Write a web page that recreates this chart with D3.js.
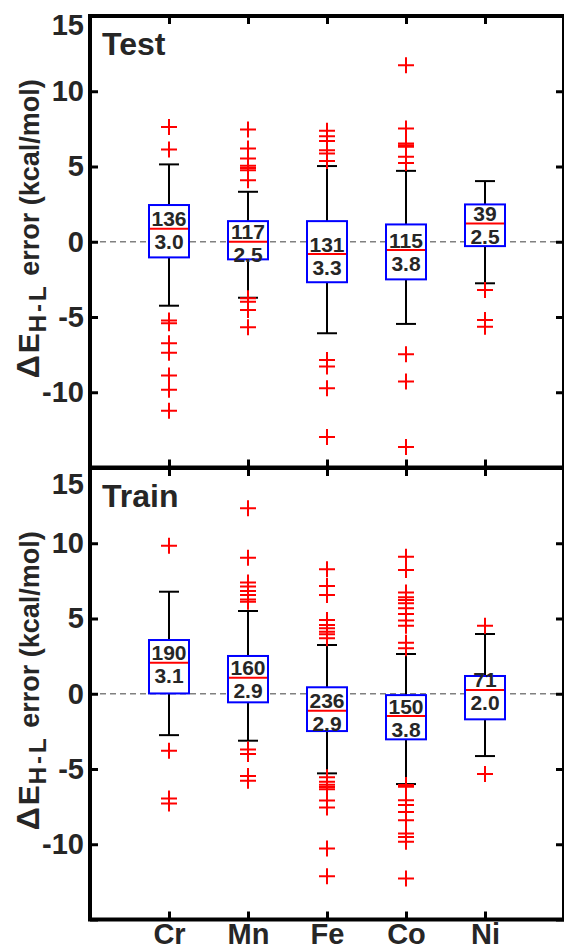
<!DOCTYPE html>
<html>
<head>
<meta charset="utf-8">
<script src="https://cdn.jsdelivr.net/npm/d3@7"></script>
<style>
  html, body { margin: 0; padding: 0; background: #fff; }
  svg { display: block; }
  text { font-family: "Liberation Sans", Arial, Helvetica, sans-serif; font-weight: bold; fill: #262626; }
</style>
</head>
<body>
<svg id="chart" width="564" height="951"></svg>
<script>
// Metal centres on the x axis
const metals = ["Cr", "Mn", "Fe", "Co", "Ni"];
const yTicks = [-15, -10, -5, 0, 5, 10, 15];
const yTickLabels = [-10, -5, 0, 5, 10, 15];

// Test set: box statistics (kcal/mol)
const testQ1 = [-1.04, -1.17, -2.69, -2.50, -0.29];
const testMedian = [0.86, 0.00, -0.82, -0.55, 1.22];
const testQ3 = [2.44, 1.37, 1.37, 1.15, 2.48];
const testWhiskerLow = [-4.25, -3.72, -6.08, -5.46, -2.76];
const testWhiskerHigh = [5.14, 3.32, 5.03, 4.71, 4.03];
const testOutliers = [
  [7.63, 6.13, -5.24, -5.42, -6.74, -7.37, -8.89, -9.84, -11.23],
  [7.46, 6.20, 5.53, 5.05, 4.90, 4.75, 4.09, -3.76, -3.98, -4.53, -5.68],
  [7.37, 7.01, 6.70, 6.08, 5.87, 5.37, -7.85, -8.29, -9.73, -12.98],
  [11.73, 7.52, 6.53, 6.42, 6.31, 5.64, 5.24, -7.47, -9.29, -13.64],
  [-3.20, -5.20, -5.64]
];
const testCounts = [136, 117, 131, 115, 39];
const testMAE = [3.0, 2.5, 3.3, 3.8, 2.5];

// Training set: box statistics (kcal/mol)
const trainQ1 = [0.02, -0.57, -2.48, -3.03, -1.70];
const trainMedian = [2.06, 1.06, -1.13, -1.48, 0.25];
const trainQ3 = [3.57, 2.51, 0.43, -0.09, 1.18];
const trainWhiskerLow = [-2.75, -3.12, -5.29, -6.00, -4.14];
const trainWhiskerHigh = [6.78, 5.50, 3.24, 2.64, 3.97];
const trainOutliers = [
  [9.84, -3.79, -6.96, -7.29],
  [12.33, 9.04, 7.40, 7.12, 6.83, 6.56, 6.27, 6.12, -3.70, -4.01, -5.47, -5.78],
  [8.27, 7.16, 6.56, 4.90, 4.57, 4.35, 4.12, 3.95, 3.68,
   -5.55, -5.85, -6.05, -6.20, -6.35, -7.10, -7.55, -10.28, -12.12],
  [9.11, 8.22, 6.72, 6.41, 6.23, 6.01, 5.68, 5.30, 4.86, 4.52, 3.39, 3.02,
   -6.07, -6.18, -7.07, -7.40, -7.85, -8.40, -9.28, -9.51, -9.84, -12.27],
  [4.52, -5.34]
];
const trainCounts = [190, 160, 236, 150, 71];
const trainMAE = [3.1, 2.9, 2.9, 3.8, 2.0];

const svg = d3.select("#chart");
svg.append("rect").attr("width", 564).attr("height", 951).attr("fill", "#fff");

const x = d3.scaleLinear().domain([0, 6]).range([90, 564]);

function buildRows(q1, med, q3, wl, wh, outl, counts, mae) {
  return metals.map((m, i) => ({
    metal: m, pos: i + 1, q1: q1[i], median: med[i], q3: q3[i],
    low: wl[i], high: wh[i], outliers: outl[i], count: counts[i], mae: mae[i]
  }));
}

const panels = [
  { title: "Test", top: 16, bottom: 467.5, titleY: 55, topLabelShift: 9, xLabels: false,
    rows: buildRows(testQ1, testMedian, testQ3, testWhiskerLow, testWhiskerHigh, testOutliers, testCounts, testMAE) },
  { title: "Train", top: 468, bottom: 919.5, titleY: 507, topLabelShift: 16, xLabels: true,
    rows: buildRows(trainQ1, trainMedian, trainQ3, trainWhiskerLow, trainWhiskerHigh, trainOutliers, trainCounts, trainMAE) }
];

const boxW = 40, capW = 20, plus = 8;

panels.forEach(p => {
  const y = d3.scaleLinear().domain([-15, 15]).range([p.bottom, p.top]);
  const g = svg.append("g");

  // zero reference line
  g.append("line")
    .attr("x1", x(0)).attr("x2", x(6))
    .attr("y1", y(0)).attr("y2", y(0))
    .attr("stroke", "#808080").attr("stroke-width", 1.4)
    .attr("stroke-dasharray", "6,4");

  const box = g.selectAll("g.box").data(p.rows).join("g").attr("class", "box");

  // whiskers and caps
  box.append("line")
    .attr("x1", d => x(d.pos)).attr("x2", d => x(d.pos))
    .attr("y1", d => y(d.q3)).attr("y2", d => y(d.high))
    .attr("stroke", "#000").attr("stroke-width", 2);
  box.append("line")
    .attr("x1", d => x(d.pos)).attr("x2", d => x(d.pos))
    .attr("y1", d => y(d.q1)).attr("y2", d => y(d.low))
    .attr("stroke", "#000").attr("stroke-width", 2);
  box.append("line")
    .attr("x1", d => x(d.pos) - capW / 2).attr("x2", d => x(d.pos) + capW / 2)
    .attr("y1", d => y(d.high)).attr("y2", d => y(d.high))
    .attr("stroke", "#000").attr("stroke-width", 2);
  box.append("line")
    .attr("x1", d => x(d.pos) - capW / 2).attr("x2", d => x(d.pos) + capW / 2)
    .attr("y1", d => y(d.low)).attr("y2", d => y(d.low))
    .attr("stroke", "#000").attr("stroke-width", 2);

  // outlier crosses
  box.selectAll("path.out")
    .data(d => d.outliers.map(v => ({ pos: d.pos, v })))
    .join("path").attr("class", "out")
    .attr("d", o => {
      const cx = x(o.pos), cy = y(o.v);
      return `M${cx - plus},${cy}H${cx + plus}M${cx},${cy - plus}V${cy + plus}`;
    })
    .attr("stroke", "#ff0000").attr("stroke-width", 2).attr("fill", "none");

  // interquartile box
  box.append("rect")
    .attr("x", d => x(d.pos) - boxW / 2).attr("width", boxW)
    .attr("y", d => y(d.q3)).attr("height", d => y(d.q1) - y(d.q3))
    .attr("fill", "#fff").attr("stroke", "#0000ff").attr("stroke-width", 2);

  // median
  box.append("line")
    .attr("x1", d => x(d.pos) - boxW / 2 + 1).attr("x2", d => x(d.pos) + boxW / 2 - 1)
    .attr("y1", d => y(d.median)).attr("y2", d => y(d.median))
    .attr("stroke", "#ff0000").attr("stroke-width", 2);

  // sample count above the median, mean absolute error below
  box.append("text")
    .attr("x", d => x(d.pos)).attr("y", d => y(d.median) - 2.5)
    .attr("text-anchor", "middle").attr("font-size", 21)
    .text(d => d.count);
  box.append("text")
    .attr("x", d => x(d.pos)).attr("y", d => y(d.median) + 20.5)
    .attr("text-anchor", "middle").attr("font-size", 21)
    .text(d => d3.format(".1f")(d.mae));

  // panel title
  g.append("text").attr("x", 102).attr("y", p.titleY)
    .attr("font-size", 32).text(p.title);

  // axes with inward ticks
  const axisStyle = sel => {
    sel.select(".domain").remove();
    sel.selectAll(".tick line").attr("stroke", "#000").attr("stroke-width", 3);
  };
  const left = g.append("g").attr("transform", `translate(${x(0)},0)`)
    .call(d3.axisLeft(y).tickValues(yTicks).tickSize(-8).tickSizeOuter(0).tickPadding(6)
      .tickFormat(v => yTickLabels.includes(v) ? v : ""))
    .call(axisStyle);
  left.selectAll(".tick text")
    .attr("font-size", 29).attr("fill", "#262626")
    .attr("font-family", "'Liberation Sans', Arial, sans-serif").attr("font-weight", "bold")
    .attr("transform", d => d === 15 ? `translate(0,${p.topLabelShift})` : null);

  g.append("g").attr("transform", `translate(${x(6)},0)`)
    .call(d3.axisRight(y).tickValues(yTicks).tickSize(-8).tickSizeOuter(0).tickFormat(""))
    .call(axisStyle);
  g.append("g").attr("transform", `translate(0,${p.top})`)
    .call(d3.axisTop(x).tickValues([1, 2, 3, 4, 5]).tickSize(-8).tickSizeOuter(0).tickFormat(""))
    .call(axisStyle);
  const bottom = g.append("g").attr("transform", `translate(0,${p.bottom})`)
    .call(d3.axisBottom(x).tickValues([1, 2, 3, 4, 5]).tickSize(-8).tickSizeOuter(0).tickPadding(4)
      .tickFormat(v => p.xLabels ? metals[v - 1] : ""))
    .call(axisStyle);
  bottom.selectAll(".tick text")
    .attr("font-size", 29).attr("fill", "#262626")
    .attr("font-family", "'Liberation Sans', Arial, sans-serif").attr("font-weight", "bold");

  // frame
  g.append("rect")
    .attr("x", x(0)).attr("y", p.top)
    .attr("width", x(6) - x(0)).attr("height", p.bottom - p.top)
    .attr("fill", "none").attr("stroke", "#000").attr("stroke-width", 4);

  // y axis title
  const cy = (p.top + p.bottom) / 2 - 13;
  const yl = g.append("text")
    .attr("transform", `translate(39,${cy}) rotate(-90)`)
    .attr("text-anchor", "middle").attr("font-size", 27);
  yl.append("tspan").attr("font-size", 32).text("\u0394");
  yl.append("tspan").attr("font-size", 30).attr("dx", 2).text("E");
  yl.append("tspan").attr("font-size", 24).attr("dy", 7).attr("dx", 1)
    .attr("letter-spacing", 3).text("H-L");
  yl.append("tspan").attr("dy", -7).text(" error (kcal/mol)");
});
</script>
</body>
</html>
